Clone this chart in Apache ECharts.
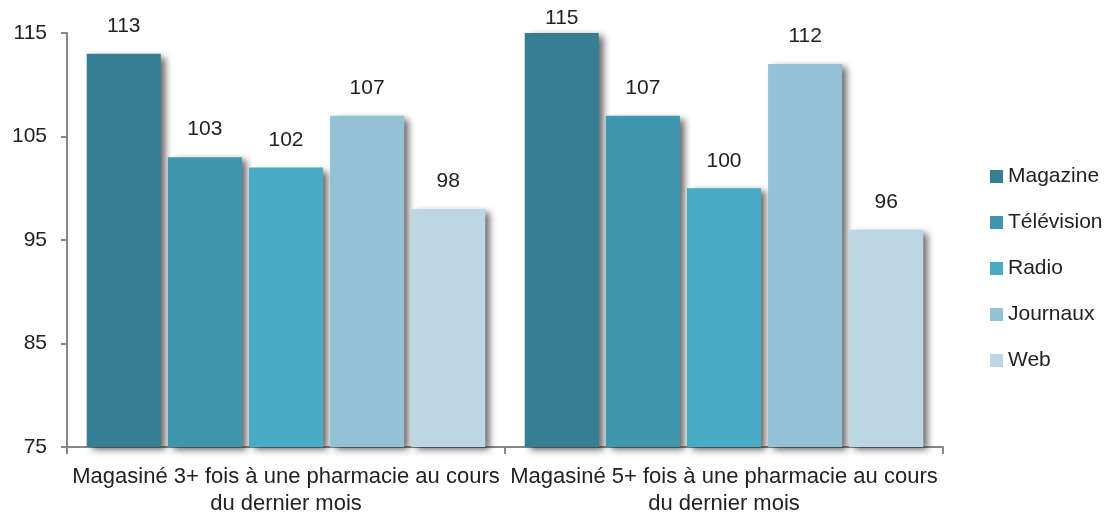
<!DOCTYPE html>
<html>
<head>
<meta charset="utf-8">
<script src="https://cdn.jsdelivr.net/npm/echarts@6/dist/echarts.min.js"></script>
<style>html,body{margin:0;padding:0;background:#fff}#c{width:1112px;height:517px}</style>
</head>
<body>
<div id="c"></div>
<script>
var categories = ["Magasiné 3+ fois à une pharmacie au cours\ndu dernier mois", "Magasiné 5+ fois à une pharmacie au cours\ndu dernier mois"];
var seriesNames = ["Magazine", "Télévision", "Radio", "Journaux", "Web"];
var magazine = [113, 115];
var television = [103, 107];
var radio = [102, 100];
var journaux = [107, 112];
var web = [98, 96];
var yTicks = [75, 85, 95, 105, 115];

var colors = ["#367F93", "#4097AD", "#4AABC5", "#94C2D5", "#BDD6E3"];
var values = [magazine, television, radio, journaux, web];
var font = "'Liberation Sans', Arial, sans-serif";
var yMax = yTicks[yTicks.length-1];

var chart = echarts.init(document.getElementById('c'));
chart.setOption({
  animation: false,
  textStyle: {fontFamily: font},
  grid: {left: 67, right: 169, top: 33, bottom: 70, containLabel: false},
  legend: {
    orient: 'vertical', left: 985, top: 161, itemGap: 25, itemWidth: 13, itemHeight: 13,
    icon: 'rect',
    textStyle: {fontSize: 21, lineHeight: 20, color: '#222', fontFamily: font, padding: [0,0,0,0]},
    data: seriesNames
  },
  xAxis: {
    type: 'category', data: categories,
    axisLine: {lineStyle: {color: '#888', width: 2}},
    axisTick: {show: true, length: 7, lineStyle: {color: '#888', width: 2}},
    axisLabel: {fontSize: 22, color: '#222', lineHeight: 27, margin: 16, fontFamily: font, interval: 0}
  },
  yAxis: {
    type: 'value', min: yTicks[0], max: yMax, interval: 10,
    axisLine: {show: true, lineStyle: {color: '#888', width: 2}},
    axisTick: {show: true, length: 6, lineStyle: {color: '#888', width: 2}},
    splitLine: {show: false},
    axisLabel: {fontSize: 21, color: '#222', margin: 20, fontFamily: font}
  },
  series: seriesNames.map(function(n, i){
    return {
      name: n, type: 'bar',
      data: values[i].map(function(v){
        return v >= yMax ? {value: v, label: {distance: 4}} : v;
      }),
      barGap: '9.5%', barCategoryGap: '9%',
      itemStyle: {color: colors[i], shadowColor: 'rgba(0,0,0,0.6)', shadowBlur: 7, shadowOffsetX: 5, shadowOffsetY: 3},
      label: {show: true, position: 'top', distance: 17, fontSize: 21, color: '#222', fontFamily: font}
    };
  })
});
</script>
</body>
</html>
